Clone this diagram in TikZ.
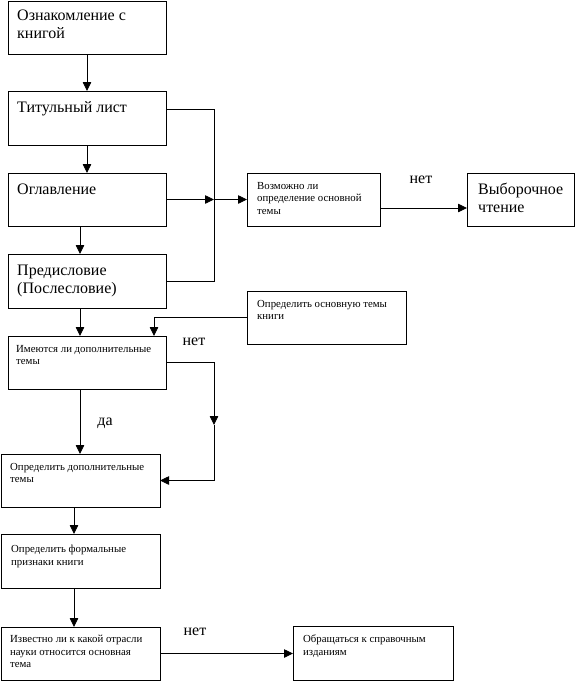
\documentclass[tikz,border=0pt]{standalone}
\usepackage{fontspec}
\setmainfont{Liberation Serif}
\usetikzlibrary{arrows.meta}
\begin{document}
\begin{tikzpicture}[x=1pt,y=-1pt,
  box/.style={draw,line width=0.8pt,anchor=north west,inner sep=0pt,outer sep=0pt},
  bigtxt/.style={anchor=north west,inner sep=0pt,align=left,font=\fontsize{16}{18}\selectfont},
  smalltxt/.style={anchor=north west,inner sep=0pt,align=left,font=\fontsize{10.8}{12.5}\selectfont},
  lbl/.style={inner sep=0pt,font=\fontsize{16}{18}\selectfont},
  conn/.style={line width=0.8pt},
  arr/.style={line width=0.8pt,-{Triangle[length=9pt,width=8.5pt]}}]
\useasboundingbox (0,0) rectangle (581,681);
% boxes
\node[box,minimum width=158pt,minimum height=53pt] (b1) at (8,1) {};
\node[box,minimum width=158pt,minimum height=54pt] (b2) at (8,91) {};
\node[box,minimum width=158pt,minimum height=53pt] (b3) at (8,173) {};
\node[box,minimum width=158pt,minimum height=54pt] (b4) at (8,254) {};
\node[box,minimum width=133pt,minimum height=53pt] (b5) at (247,173) {};
\node[box,minimum width=107pt,minimum height=53pt] (b6) at (467,173) {};
\node[box,minimum width=159pt,minimum height=53pt] (b7) at (247,291) {};
\node[box,minimum width=158pt,minimum height=53pt] (b8) at (8,336) {};
\node[box,minimum width=159pt,minimum height=53pt] (b9) at (1,454) {};
\node[box,minimum width=159pt,minimum height=54pt] (b10) at (1,534) {};
\node[box,minimum width=159pt,minimum height=53pt] (b11) at (1,627) {};
\node[box,minimum width=160pt,minimum height=54pt] (b12) at (293,626) {};
% texts
\node[bigtxt] (t1) at (17,10) {Ознакомление с\\книгой};
\node[bigtxt] (t2) at (17,101) {Титульный лист};
\node[bigtxt] (t3) at (17,184) {Оглавление};
\node[bigtxt] (t4) at (17,265) {Предисловие\\(Послесловие)};
\node[smalltxt] (t5) at (257,182) {Возможно ли\\определение основной\\темы};
\node[bigtxt] (t6) at (478,183) {Выборочное\\чтение};
\node[smalltxt] (t7) at (257,300) {Определить основную темы\\книги};
\node[smalltxt] (t8) at (16,345) {Имеются ли дополнительные\\темы};
\node[smalltxt] (t9) at (10,463) {Определить дополнительные\\темы};
\node[smalltxt] (t10) at (11,545) {Определить формальные\\признаки книги};
\node[smalltxt] (t11) at (10,635) {Известно ли к какой отрасли\\науки относится основная\\тема};
\node[smalltxt] (t12) at (303,635) {Обращаться к справочным\\изданиям};
% labels
\node[lbl] (l1) at (421,180) {нет};
\node[lbl] (l2) at (194,342) {нет};
\node[lbl] (l3) at (105,423) {да};
\node[lbl] (l4) at (195,632) {нет};
% coordinates
\coordinate (j2) at (214,109);
\coordinate (j3) at (214,199.5);
\coordinate (j4) at (214,281);
\coordinate (p56) at ([yshift=-8.5pt]b5.east);
\coordinate (k7) at (154,317.5);
\coordinate (k8) at (154,336);
\coordinate (m1) at (214,362.5);
\coordinate (m2) at (214,425);
\coordinate (m3) at (214,480.5);
% connectors
\draw[arr] (b1.south) -- (b2.north);
\draw[arr] (b2.south) -- (b3.north);
\draw[arr] (80,226) -- (80,254);
\draw[arr] (80,308) -- (80,336);
\draw[arr] (80,389) -- (80,454);
\draw[arr] (74,507) -- (74,534);
\draw[arr] (74,588) -- (74,627);
\draw[conn] (b2.east |- j2) -- (j2) -- (j4) -- (b4.east |- j4);
\draw[arr] (b3.east) -- (j3);
\draw[arr] (j3) -- (b5.west);
\draw[arr] (p56) -- (p56 -| b6.west);
\draw[arr] (b7.west) -- (k7) -- (k8);
\draw[arr] (b8.east) -- (m1) -- (m2);
\draw[arr] (m2) -- (m3) -- (b9.east);
\draw[arr] (b11.east) -- (b11.east -| b12.west);
\end{tikzpicture}
\end{document}
